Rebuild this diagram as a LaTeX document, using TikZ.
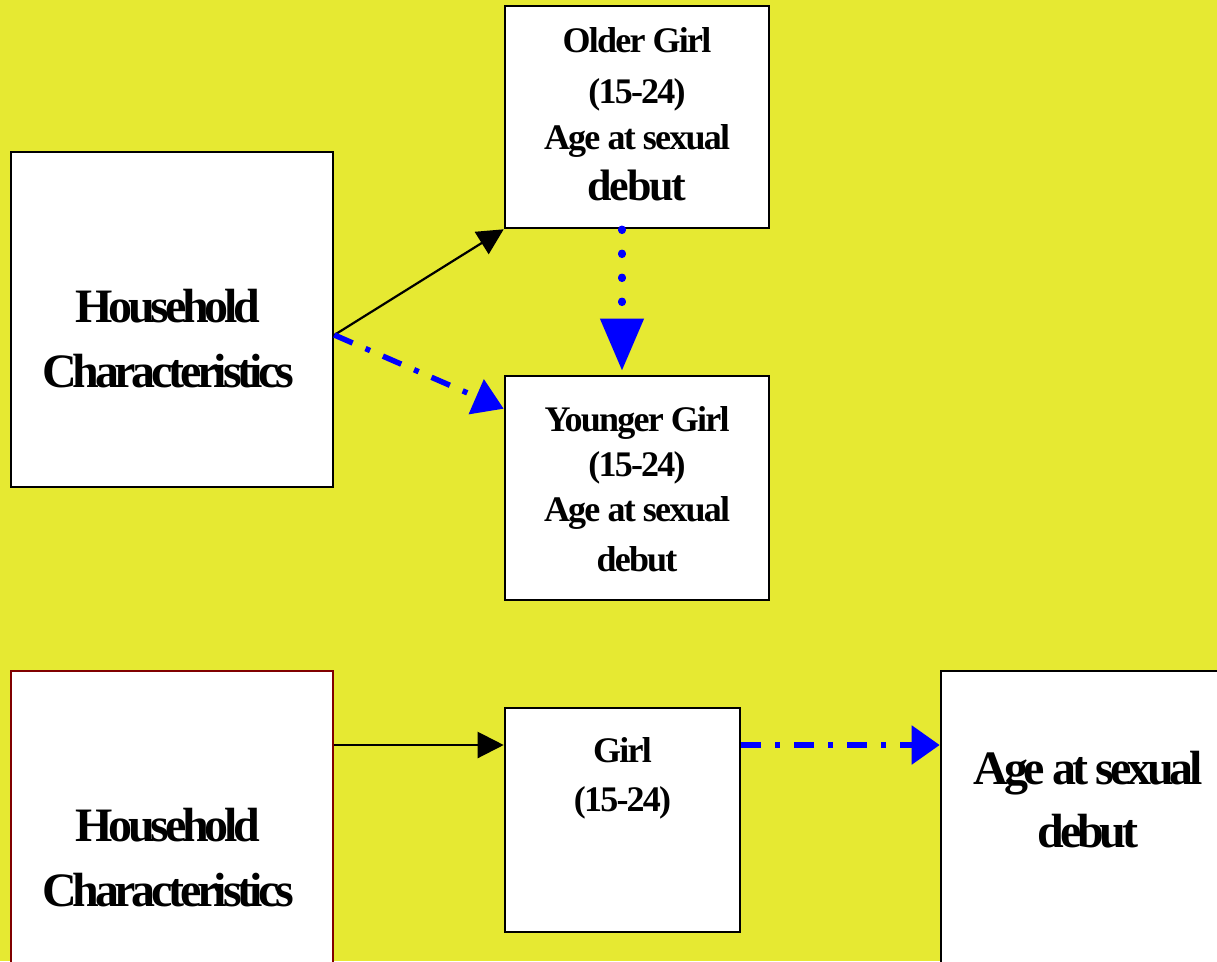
\documentclass[tikz,border=0pt]{standalone}
\usepackage{fontspec}
\setmainfont{Liberation Serif}
\newfontfamily\tightfont{Liberation Serif}[LetterSpace=-9]
\newfontfamily\snugfont{Liberation Serif}[LetterSpace=-5]
\usepackage{xcolor}
\usetikzlibrary{positioning, arrows.meta}
\definecolor{slideyellow}{RGB}{230,233,50}
\definecolor{boxred}{RGB}{128,0,0}

\begin{document}
\begin{tikzpicture}[x=1pt, y=-1pt,
            box/.style = {rectangle, draw, fill=white, line width=2.6pt, inner sep=0pt},
            bigtext/.style = {align=center, inner sep=0pt, font=\tightfont\bfseries\fontsize{48}{65}\selectfont},
            smalltext/.style = {align=center, inner sep=0pt, font=\snugfont\bfseries\fontsize{36}{46}\selectfont},
            solidarrow/.style = {draw, line width=2.2pt, -{Triangle[length=26pt, width=26pt]}},
            dashdot/.style = {draw=blue, line width=5.5pt, dash pattern=on 20pt off 14pt on 5pt off 14pt},
        ]
            % Slide background
            \useasboundingbox (0,0) rectangle (1217,961);
            \fill[slideyellow] (0,0) rectangle (1217,961);
            \clip (0,0) rectangle (1217,961);

            % Upper diagram: boxes
            \node[box, minimum width=322pt, minimum height=335pt] (hhtop) at (172,319.5) {};
            \node[box, minimum width=264pt, minimum height=222pt] (older) at (637,117) {};
            \node[box, minimum width=264pt, minimum height=224pt] (younger) at (637,488) {};

            % Lower diagram: boxes (two run off the slide)
            \node[box, draw=boxred, line width=2pt, minimum width=322pt, minimum height=340pt] (hhbot) at (172,841) {};
            \node[box, minimum width=235pt, minimum height=224pt] (girl) at (622.5,820) {};
            \node[box, minimum width=294pt, minimum height=340pt] (age) at (1088,841) {};

            % Box texts
            \node[bigtext, below=138pt of hhtop.north, xshift=-4pt] (hhtoptext) {Household\\Characteristics};
            \node[smalltext, below=23pt of older.north] (oldertext) {Older Girl\\[5pt](15-24)\\Age at sexual\\[5pt]{\fontsize{44}{50}\selectfont debut}};
            \node[smalltext, below=32pt of younger.north] (youngertext) {Younger Girl\\[-1pt](15-24)\\[-1pt]Age at sexual\\[4pt]debut};
            \node[bigtext, below=138pt of hhbot.north, xshift=-4pt] (hhbottext) {Household\\Characteristics};
            \node[smalltext, below=31pt of girl.north] (girltext) {Girl\\[3pt](15-24)};
            \node[bigtext, below=81pt of age.north] (agetext) {Age at sexual\\[-2pt]debut};

            % Upper arrows
            \coordinate (hhout) at ([yshift=-15.5pt]hhtop.east);
            \draw[solidarrow] (hhout) -- (older.south west);
            \draw[dashdot, -{Triangle[length=30pt, width=37pt]}] (hhout) -- ([yshift=-34pt]younger.north west);
            \draw[blue, line width=7.5pt, line cap=round, dash pattern=on 1pt off 23pt,
                  -{Triangle[length=52pt, width=42pt]}, shorten >=4pt]
                ([xshift=-15pt]older.south) -- ([xshift=-15pt]younger.north);

            % Lower arrows
            \coordinate (girlin) at ([yshift=75pt]girl.west);
            \coordinate (girlout) at ([yshift=75pt]girl.east);
            \draw[solidarrow] (girlin -| hhbot.east) -- (girlin);
            \draw[dashdot, -{Triangle[length=28pt, width=38pt]}] (girlout) -- (girlout -| age.west);
\end{tikzpicture}
\end{document}
